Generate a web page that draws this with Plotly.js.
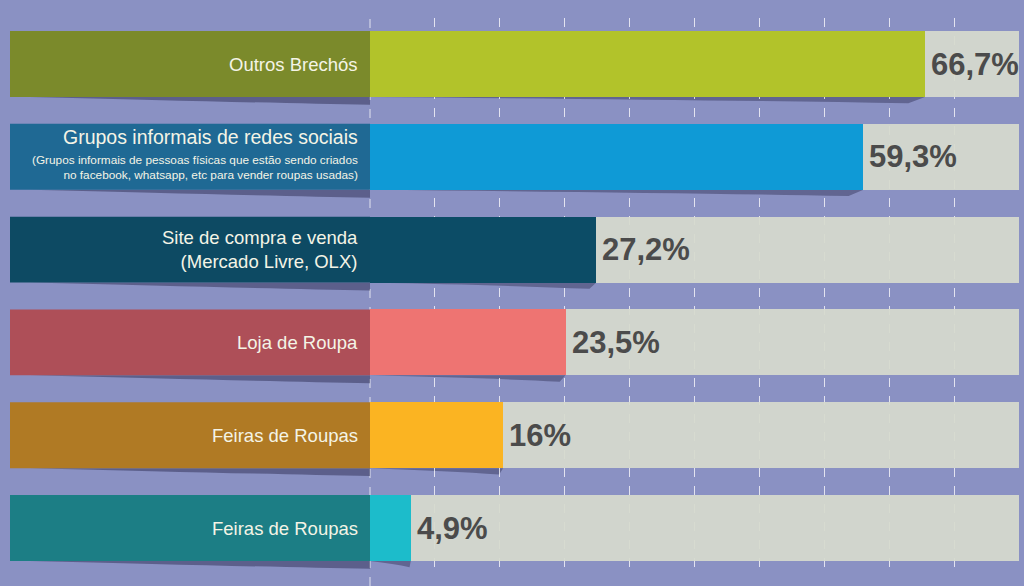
<!DOCTYPE html>
<html>
<head>
<meta charset="utf-8">
<script src="https://cdn.plot.ly/plotly-3.0.1.min.js"></script>
<style>html,body{margin:0;padding:0;background:#8a91c3;}#chart{width:1024px;height:586px;}</style>
</head>
<body>
<div id="chart"></div>
<script>
// ---- data ----
const categories = [
  "Outros Brechós",
  "Grupos informais de redes sociais",
  "Site de compra e venda<br>(Mercado Livre, OLX)",
  "Loja de Roupa",
  "Feiras de Roupas",
  "Feiras de Roupas"
];
const subLabels = [
  "",
  "(Grupos informais de pessoas físicas que estão sendo criados<br>no facebook, whatsapp, etc para vender roupas usadas)",
  "", "", "", ""
];
const values = [66.7, 59.3, 27.2, 23.5, 16, 4.9];
const valueLabels = ["66,7%", "59,3%", "27,2%", "23,5%", "16%", "4,9%"];
const barColors = ["#b2c32a", "#0f9ad6", "#0c4c66", "#ee7472", "#fbb422", "#1cbccb"];
const boxColors = ["#7b8a2b", "#1f6994", "#0d4a63", "#ae4f58", "#b07a24", "#1c7e85"];

// ---- layout constants ----
const W = 1024, H = 586;
const AXIS_MIN = -0.12, AXIS_MAX = 78;
const BAR_W = 0.71;
const idx = categories.map((_, i) => i);
const font = '"Liberation Sans", Arial, sans-serif';

const track = {
  type: 'bar', orientation: 'h',
  y: idx, x: idx.map(() => AXIS_MAX), width: BAR_W,
  marker: {color: '#d6dace', opacity: 0.93, line: {width: 0}},
  hoverinfo: 'skip', showlegend: false
};
const bars = {
  type: 'bar', orientation: 'h',
  y: idx, x: values, width: BAR_W,
  marker: {color: barColors, line: {width: 0}},
  hoverinfo: 'skip', showlegend: false
};

const shapes = [];
// dashed line at zero (gridline at the left edge of the bars)
shapes.push({
  type: 'line', xref: 'x', yref: 'paper', x0: 0, x1: 0, y0: 0, y1: (H - 17.6) / H,
  line: {color: 'rgba(255,255,255,0.75)', width: 1, dash: 'dash'}, layer: 'below'
});
idx.forEach(i => {
  const yb = i + BAR_W / 2;
  const t = 0.085;
  // curled shadow below the label box
  const bx0 = 30 / W, bx1 = 370 / W, bxm = 250 / W;
  shapes.push({
    type: 'path', xref: 'paper', yref: 'y',
    path: `M ${bx0},${yb} L ${bx1},${yb} L ${bx1},${yb + t} Q ${bxm},${yb + t * 0.7} ${bx0},${yb} Z`,
    fillcolor: 'rgba(35,35,70,0.45)', line: {width: 0}, layer: 'below'
  });
  // curled shadow below the coloured bar
  const v = values[i];
  shapes.push({
    type: 'path', xref: 'x', yref: 'y',
    path: `M 0,${yb} L ${v},${yb} L ${v * 0.97},${yb + t * 0.8} Q ${v * 0.6},${yb + t * 0.35} 0,${yb} Z`,
    fillcolor: 'rgba(35,35,70,0.4)', line: {width: 0}, layer: 'below'
  });
  // label box
  shapes.push({
    type: 'rect', xref: 'paper', yref: 'y',
    x0: 10 / W, x1: 370 / W, y0: i - BAR_W / 2, y1: i + BAR_W / 2,
    fillcolor: boxColors[i], line: {width: 0}, layer: 'above'
  });
});

const annotations = [];
idx.forEach(i => {
  const hasSub = subLabels[i] !== "";
  annotations.push({
    xref: 'paper', yref: 'y', x: 360 / W, y: i,
    xanchor: 'right', yanchor: 'middle', align: 'right',
    text: categories[i], showarrow: false,
    yshift: hasSub ? 20 : 0,
    font: {family: font, size: hasSub ? 19.5 : 18.5, color: '#f4f4e6'}
  });
  if (hasSub) {
    annotations.push({
      xref: 'paper', yref: 'y', x: 360 / W, y: i,
      xanchor: 'right', yanchor: 'middle', align: 'right',
      text: subLabels[i], showarrow: false, yshift: -11,
      font: {family: font, size: 11.8, color: '#f4f4e6'}
    });
  }
  annotations.push({
    xref: 'x', yref: 'y', x: values[i], y: i,
    xanchor: 'left', yanchor: 'middle', xshift: 4,
    text: '<b>' + valueLabels[i] + '</b>', showarrow: false,
    font: {family: font, size: 31, color: '#4b4b4b'}
  });
});

const layout = {
  width: W, height: H,
  margin: {l: 0, r: 0, t: 0, b: 0},
  paper_bgcolor: '#8a91c3', plot_bgcolor: '#8a91c3',
  barmode: 'overlay', bargap: 0,
  xaxis: {
    domain: [369 / W, 1019 / W], range: [AXIS_MIN, AXIS_MAX],
    tick0: 0, dtick: AXIS_MAX / 10,
    showgrid: true, gridcolor: 'rgba(255,255,255,0.75)', griddash: 'dash', gridwidth: 1,
    zeroline: false, showticklabels: false, ticks: '', showline: false, fixedrange: true
  },
  yaxis: {
    domain: [(H - 574.4) / H, (H - 17.6) / H],
    range: [categories.length - 0.5, -0.5],
    showgrid: false, zeroline: false, showticklabels: false, ticks: '', showline: false, fixedrange: true
  },
  shapes: shapes,
  annotations: annotations
};

Plotly.newPlot('chart', [track, bars], layout, {displayModeBar: false, staticPlot: true});
</script>
</body>
</html>
